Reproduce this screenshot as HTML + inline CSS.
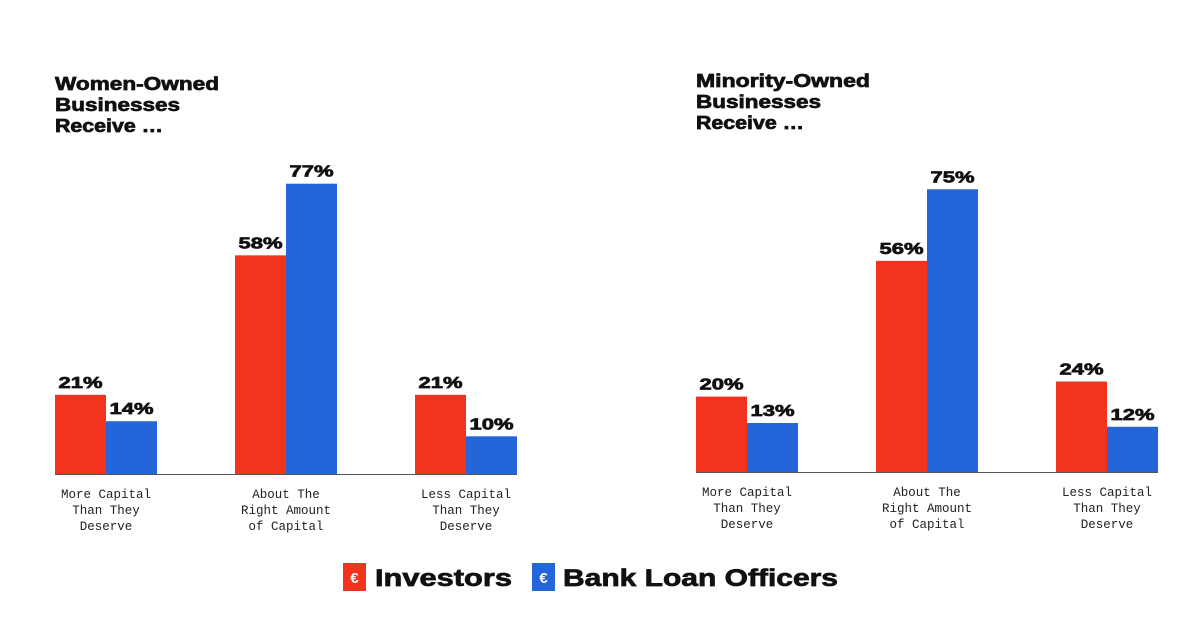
<!DOCTYPE html>
<html><head><meta charset="utf-8"><style>
html,body{margin:0;padding:0;background:#fff}
svg{display:block}
.t{font-family:"Liberation Sans",sans-serif;font-weight:bold;fill:#111;stroke:#111;stroke-width:0.7px}
.c{font-family:"Liberation Mono",monospace;font-size:12.5px;fill:#222}
</style></head><body>
<svg id="chart" width="1200" height="628" viewBox="0 0 1200 628" xmlns="http://www.w3.org/2000/svg">
<text class="t" font-size="18"><tspan x="55" y="90" textLength="164" lengthAdjust="spacingAndGlyphs">Women-Owned</tspan><tspan x="55" y="111" textLength="125" lengthAdjust="spacingAndGlyphs">Businesses</tspan><tspan x="55" y="132" textLength="108" lengthAdjust="spacingAndGlyphs">Receive …</tspan></text>
<text class="t" font-size="18"><tspan x="696" y="87" textLength="174" lengthAdjust="spacingAndGlyphs">Minority-Owned</tspan><tspan x="696" y="108" textLength="125" lengthAdjust="spacingAndGlyphs">Businesses</tspan><tspan x="696" y="129" textLength="108" lengthAdjust="spacingAndGlyphs">Receive …</tspan></text>
<g id="marks"></g>
<g>
<rect x="343" y="563" width="23" height="28" fill="#f2341f"/>
<text x="354.5" y="583" text-anchor="middle" font-family="Liberation Sans" font-weight="bold" font-size="15" fill="#fff">€</text>
<text class="t" x="375" y="586" font-size="24" textLength="137" lengthAdjust="spacingAndGlyphs">Investors</text>
<rect x="532" y="563" width="23" height="28" fill="#2466d9"/>
<text x="543.5" y="583" text-anchor="middle" font-family="Liberation Sans" font-weight="bold" font-size="15" fill="#fff">€</text>
<text class="t" x="563" y="586" font-size="24" textLength="275" lengthAdjust="spacingAndGlyphs">Bank Loan Officers</text>
</g>
</svg>
<script>
const categories = [["More Capital","Than They","Deserve"],["About The","Right Amount","of Capital"],["Less Capital","Than They","Deserve"]];
const womenInvestors = [21, 58, 21];
const womenBank = [14, 77, 10];
const minorityInvestors = [20, 56, 24];
const minorityBank = [13, 75, 12];
const panels = [
  {name:"women", x0:55, base:474, inv:womenInvestors, bank:womenBank},
  {name:"minority", x0:696, base:472, inv:minorityInvestors, bank:minorityBank}
];
const NS="http://www.w3.org/2000/svg";
const g=document.getElementById('marks');
const scale=3.77, barW=51, groupStep=180;
function yv(base,v){return base - v*scale;}
function mk(tag,attrs){const e=document.createElementNS(NS,tag);for(const k in attrs)e.setAttribute(k,attrs[k]);g.appendChild(e);return e;}
panels.forEach(p=>{
  const ax=mk('line',{x1:p.x0,x2:p.x0+462,y1:p.base+0.5,y2:p.base+0.5,stroke:'#555','stroke-width':1});
  
  
  categories.forEach((cat,i)=>{
    const gx=p.x0+i*groupStep;
    [[p.inv[i],'#f2341f','investors',0],[p.bank[i],'#2466d9','bank',1]].forEach(([v,col,s,k])=>{
      const x=gx+k*barW, y=yv(p.base,v);
      const r=mk('rect',{x:x,y:y,width:barW,height:p.base-y,fill:col});
      
      
      const t=mk('text',{x:x+barW/2,y:y-7,'text-anchor':'middle','class':'t','font-size':'16',textLength:'44',lengthAdjust:'spacingAndGlyphs'});
      t.textContent=v+'%';
      
      
    });
    const c=mk('text',{'class':'c','text-anchor':'middle'});
    
    
    cat.forEach((ln,j)=>{const ts=document.createElementNS(NS,'tspan');ts.setAttribute('x',gx+barW);ts.setAttribute('y',p.base+24+j*16);ts.textContent=ln;c.appendChild(ts);});
  });
});
</script>
</body></html>
